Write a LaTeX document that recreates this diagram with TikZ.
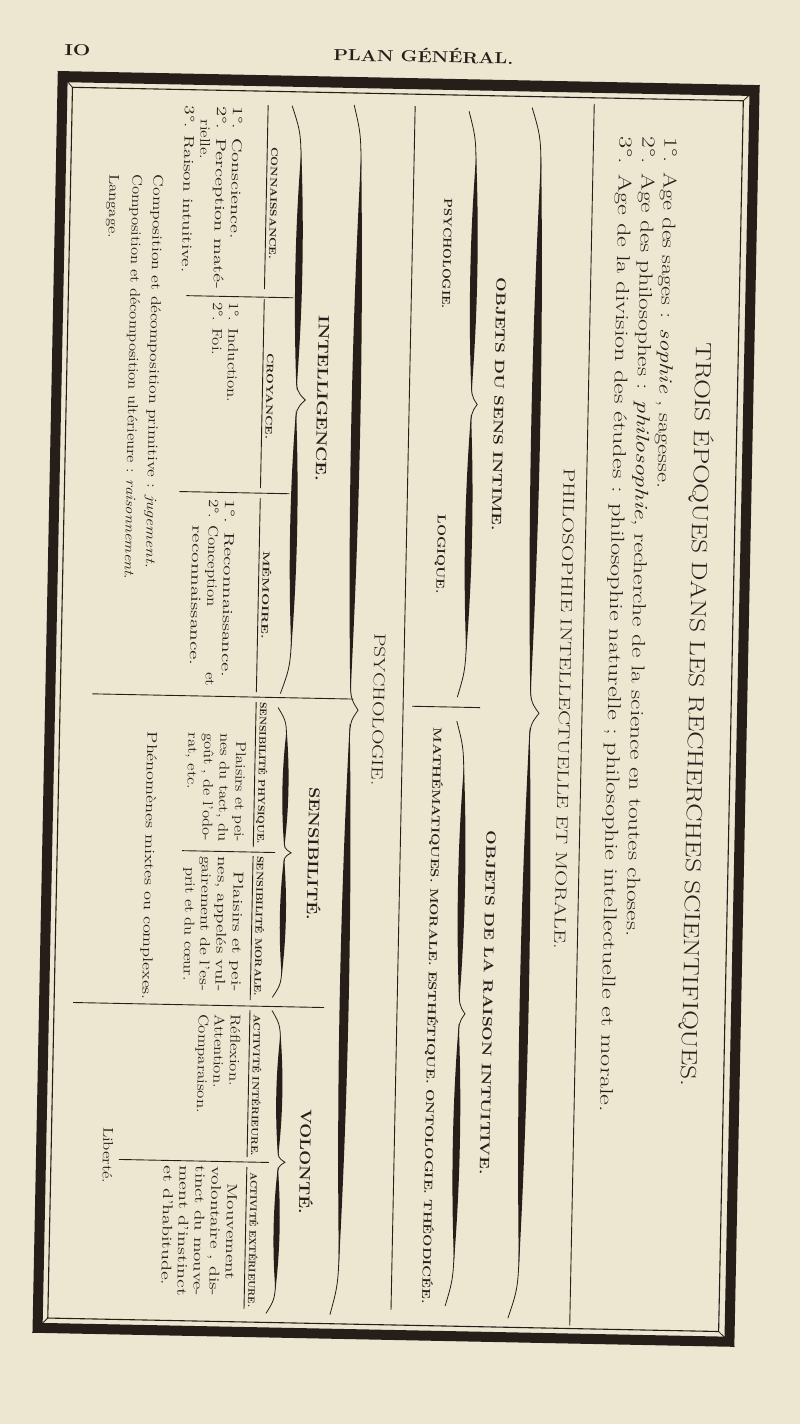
\documentclass[tikz,border=0pt]{standalone}
\usepackage{fontspec}
\usepackage{graphicx}
\definecolor{paper}{RGB}{237,230,209}
\definecolor{ink}{RGB}{38,30,24}
\newcounter{tn}
\newcommand\hsf{1.2}
\newcommand\fb{\addfontfeatures{FakeBold=1.6}}
\newcommand\TL[5]{\stepcounter{tn}\node[txt] (t\thetn) at (#1,#2) {\resizebox{#3pt}{\height}{\fontsize{#4pt}{#4pt}\selectfont\fb #5}};}
\newcommand\TN[4]{\stepcounter{tn}\node[txt] (t\thetn) at (#1,#2) {\scalebox{\hsf}[1]{\fontsize{#3pt}{#3pt}\selectfont\fb #4}};}
\newcommand\BRlens[4]{%
 \fill[ink] (#1,#2) .. controls ({#1+#4},{#2+(#3-#2)/3}) and ({#1+#4},{#3-(#3-#2)/3}) .. (#1,#3) .. controls ({#1-#4},{#3-(#3-#2)/3}) and ({#1-#4},{#2+(#3-#2)/3}) .. cycle;}
\newcommand\BR[6]{%
 \pgfmathsetmacro\brYm{(#4+#5)/2}%
 \pgfmathsetmacro\brH{(#5-#4)/2}%
 \pgfmathsetmacro\brC{min(0.28*\brH,90)}%
 \pgfmathsetmacro\brD{max(min(0.1*\brH,40),12)}%
 \pgfmathsetmacro\brA{#4+0.55*\brC}%
 \pgfmathsetmacro\brB{\brYm-0.35*\brD}%
 \pgfmathsetmacro\brE{\brYm+0.35*\brD}%
 \pgfmathsetmacro\brF{#5-0.55*\brC}%
 \pgfmathsetmacro\brP{0.67*#6}%
 \draw[ink,line width=0.8pt] (#1,#4) .. controls (#2,{#4+0.35*\brC}) .. (#2,{#4+\brC}) -- (#2,{\brYm-\brD}) .. controls (#2,{\brYm-0.3*\brD}) .. (#3,\brYm) .. controls (#2,{\brYm+0.3*\brD}) .. (#2,{\brYm+\brD}) -- (#2,{#5-\brC}) .. controls (#2,{#5-0.35*\brC}) .. (#1,#5);%
 \BRlens{#2}{\brA}{\brB}{\brP}%
 \BRlens{#2}{\brE}{\brF}{\brP}%
}
\begin{document}
\begin{tikzpicture}[x=1pt,y=-1pt,
  txt/.style={inner sep=0pt,outer sep=0pt,rotate=-90,anchor=base west,text=ink},
  rl/.style={draw=ink,line width=0.9pt}]
\fill[paper] (0,0) rectangle (800,1424);
\useasboundingbox (0,0) rectangle (800,1424);
\begin{scope}[rotate around={-1.15:(400,712)},transform shape]
% header
\node[inner sep=0pt,anchor=base west,text=ink] (pg) at (51,62) {\resizebox{26pt}{\height}{\fontsize{16pt}{16pt}\selectfont\bfseries IO}};
\node[inner sep=0pt,anchor=base west,text=ink] (hd) at (320,62) {\resizebox{180pt}{\height}{\fontsize{16pt}{16pt}\selectfont\bfseries PLAN GÉNÉRAL.}};
% frame
\fill[ink,even odd rule] (45,78) rectangle (747,1340) (55,89) rectangle (737,1330);
\draw[ink,line width=1.1pt] (60,94) rectangle (731,1325);
\draw[ink,line width=0.8pt] (45,78) -- (60,94) (747,78) -- (731,94) (45,1340) -- (60,1325) (747,1340) -- (731,1325);
% rules
\draw[rl] (582,100) -- (582,1322);
\draw[rl] (403,106) -- (403,1310);
\draw[rl] (412,706) -- (480,706);
\draw[rl] (92,700) -- (353,700);
\draw[rl] (79,1009) -- (330,1009);
\draw[rl] (178,300) -- (285,300);
\draw[rl] (175,496) -- (285,496);
\draw[rl] (185,855) -- (278,855);
\draw[rl] (128,1165) -- (278,1165);
\draw[rl] (256,108) -- (256,292) (256,302) -- (256,491) (256,501) -- (256,695)
          (256,705) -- (256,850) (256,859) -- (256,1003) (256,1013) -- (256,1160) (256,1170) -- (256,1312);
% braces
\BR{520}{530}{539}{105}{1316}{9}
\BR{457}{465}{471}{110}{696}{7}
\BR{457}{465}{471}{720}{1305}{7}
\BR{342}{350}{358}{106}{1316}{9}
\BR{280}{290}{299}{108}{696}{7}
\BR{278}{287}{294}{710}{1000}{6}
\BR{278}{287}{294}{1013}{1316}{6}
% title block
\TL{689}{337}{744}{22}{TROIS ÉPOQUES DANS LES RECHERCHES SCIENTIFIQUES.}
\TL{653}{132}{351}{18.5}{1°. Age des sages : \textit{sophie} , sagesse.}
\TL{631}{132}{800}{18.5}{2°. Age des philosophes : \textit{philosophie}, recherche de la science en toutes choses.}
\TL{608}{132}{976}{18.5}{3°. Age de la division des études : philosophie naturelle ; philosophie intellectuelle et morale.}
% philosophie block
\TL{559}{465}{481}{16}{PHILOSOPHIE INTELLECTUELLE ET MORALE.}
\TL{488}{276}{253}{13.5}{\bfseries OBJETS DU SENS INTIME.}
\TL{489}{829}{344}{13.5}{\bfseries OBJETS DE LA RAISON INTUITIVE.}
\TL{434}{198}{110}{11.5}{\bfseries PSYCHOLOGIE.}
\TL{434}{514}{79}{11.5}{\bfseries LOGIQUE.}
\TL{434}{727}{576}{11.5}{\bfseries MATHÉMATIQUES. MORALE. ESTHÉTIQUE. ONTOLOGIE. THÉODICÉE.}
% psychologie block
\TL{373}{634}{152}{16}{PSYCHOLOGIE.}
\TL{311}{317}{166}{15}{\bfseries INTELLIGENCE.}
\TL{311}{789}{133}{15}{\bfseries SENSIBILITÉ.}
\TL{309}{1111}{105}{15}{\bfseries VOLONTÉ.}
\TL{260}{150}{112}{9.5}{\bfseries CONNAISSANCE.}
\TL{260}{356}{86}{9.5}{\bfseries CROYANCE.}
\TL{260}{554}{88}{9.5}{\bfseries MÉMOIRE.}
\TL{260}{705}{142}{9.5}{\bfseries SENSIBILITÉ PHYSIQUE.}
\TL{260}{859}{140}{9.5}{\bfseries SENSIBILITÉ MORALE.}
\TL{260}{1017}{142}{9.5}{\bfseries ACTIVITÉ INTÉRIEURE.}
\TL{260}{1175}{135}{9.5}{\bfseries ACTIVITÉ EXTÉRIEURE.}
% intelligence items
\TL{221}{110}{132}{14}{1°. Conscience.}
\TL{205}{110}{183}{14}{2°. Perception maté-}
\TN{189}{124}{14}{rielle.}
\TL{173}{110}{167}{14}{3°. Raison intuitive.}
\TN{221}{306}{14}{1°. Induction.}
\TN{205}{306}{14}{2°. Foi.}
\TL{221}{503}{178}{14}{1°. Reconnaissance.}
\TN{205}{503}{14}{\makebox[156pt]{2°. Conception\hfill et}}
\TL{189}{530}{140}{14}{reconnaissance.}
\TL{143}{180}{393}{14}{Composition et décomposition primitive : \textit{jugement}.}
\TL{122}{180}{405}{14}{Composition et décomposition ultérieure : \textit{raisonnement}.}
\TN{99}{180}{14}{Langage.}
% sensibilite items
\TL{237}{745}{100}{14}{Plaisirs et pei-}
\TL{221}{737}{108}{14}{nes du tact, du}
\TL{205}{737}{108}{14}{goût , de l'odo-}
\TN{189}{737}{14}{rat, etc.}
\TL{237}{875}{120}{14}{Plaisirs et pei-}
\TL{221}{860}{135}{14}{nes, appelés vul-}
\TL{205}{860}{135}{14}{gairement de l'es-}
\TL{189}{872}{113}{14}{prit et du cœur.}
\TL{148}{737}{268}{14}{Phénomènes mixtes ou complexes.}
% volonte items
\TN{237}{1018}{14}{Réflexion.}
\TN{221}{1018}{14}{Attention.}
\TN{205}{1018}{14}{Comparaison.}
\TL{237}{1187}{96}{14}{Mouvement}
\TL{221}{1170}{130}{14}{volontaire , dis-}
\TL{205}{1170}{130}{14}{tinct du mouve-}
\TL{189}{1170}{130}{14}{ment d'instinct}
\TL{173}{1170}{120}{14}{et d'habitude.}
\TN{112}{1133}{14}{Liberté.}
\end{scope}
\end{tikzpicture}
\end{document}
